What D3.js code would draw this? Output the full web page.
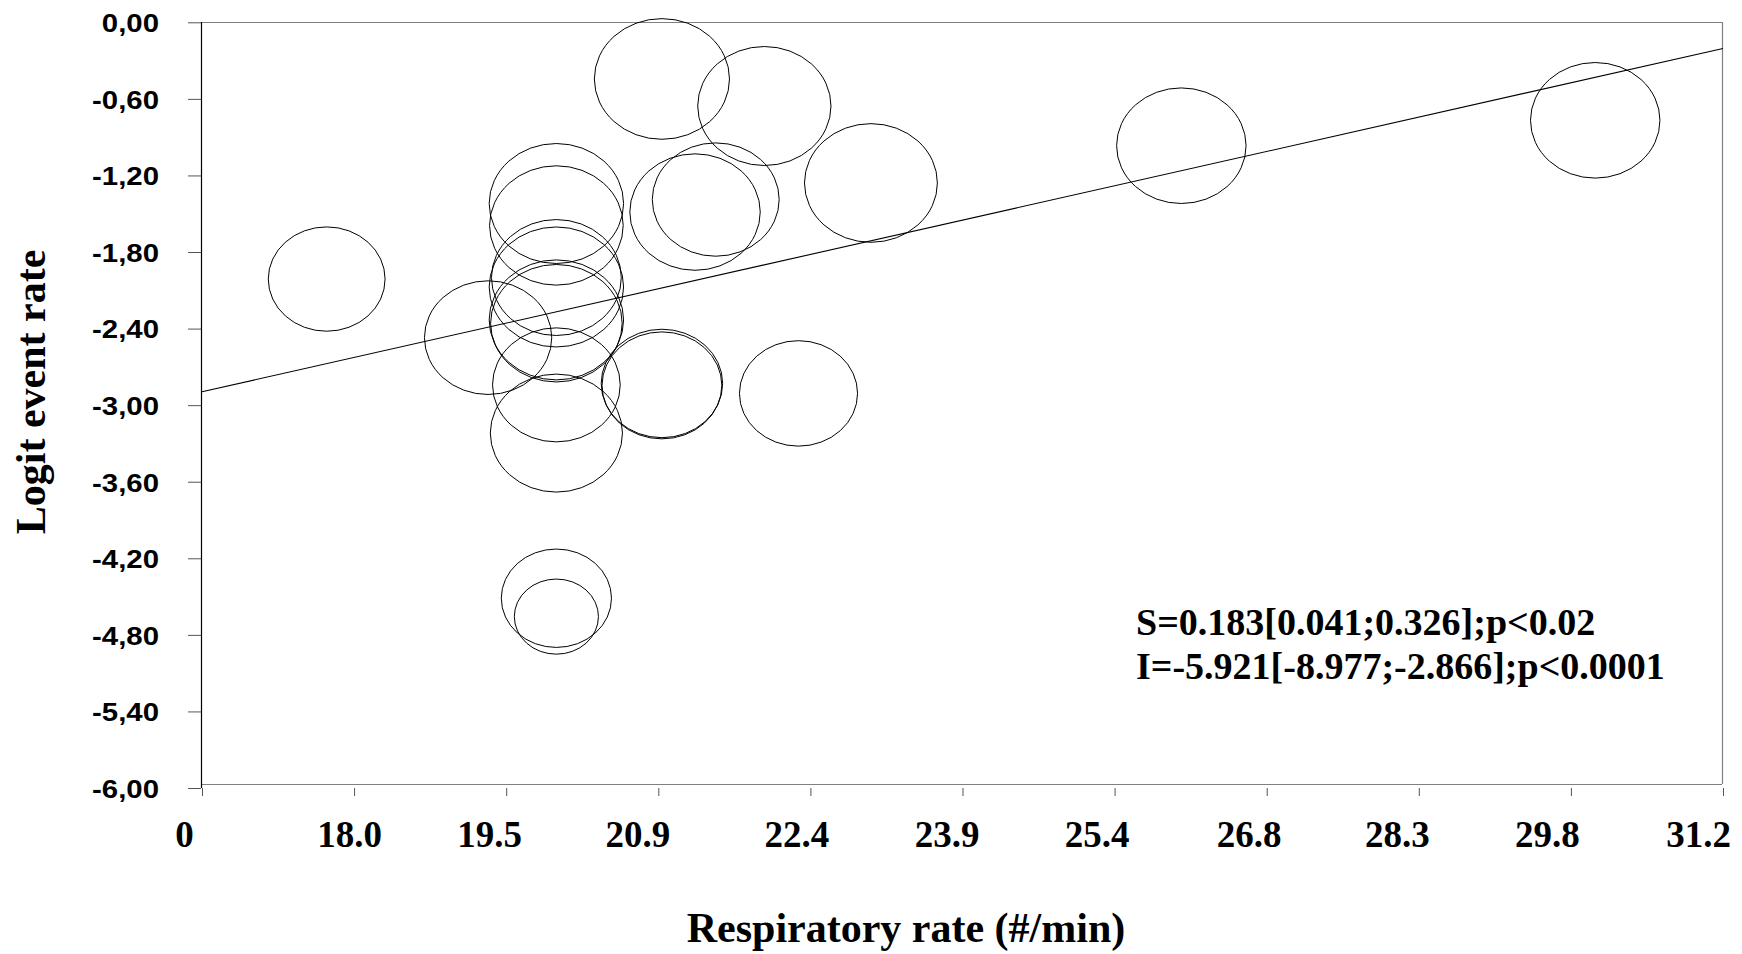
<!DOCTYPE html>
<html><head><meta charset="utf-8">
<script src="https://cdn.jsdelivr.net/npm/d3@7/dist/d3.min.js"></script>
<style>body{margin:0;background:#fff}svg{display:block}</style>
</head><body>
<svg id="chart" width="1742" height="954"></svg>
<script>
// ---- data ----
const studyRR    = [17.74, 19.30, 19.96, 19.96, 19.96, 19.96, 19.96, 19.96, 19.96, 19.96, 19.96, 19.96, 20.98, 21.97, 23.0, 21.5, 21.3, 20.98, 20.98, 22.3, 26.0, 30.0];
const studyLogit = [-2.012, -2.471, -1.420, -1.592, -2.000, -2.074, -2.332, -2.358, -2.841, -3.219, -4.513, -4.657, -0.444, -0.656, -1.259, -1.389, -1.487, -2.830, -2.845, -2.908, -0.967, -0.768];
const studyWeight= [27.2, 32.3, 36.0, 35.6, 33.6, 36.0, 36.0, 34.5, 32.5, 34.8, 24.2, 14.1, 36.4, 35.4, 35.2, 32.1, 33.9, 29.4, 28.6, 27.8, 33.4, 33.4];
const slope = 0.183, intercept = -5.921;
const yTickValues = [0, -0.6, -1.2, -1.8, -2.4, -3.0, -3.6, -4.2, -4.8, -5.4, -6.0];
const yTickLabels = ["0,00", "-0,60", "-1,20", "-1,80", "-2,40", "-3,00", "-3,60", "-4,20", "-4,80", "-5,40", "-6,00"];
const xTickValues = [16.535, 18.005, 19.475, 20.945, 22.415, 23.885, 25.355, 26.825, 28.295, 29.765, 31.235];
const xTickLabels = ["0", "18.0", "19.5", "20.9", "22.4", "23.9", "25.4", "26.8", "28.3", "29.8", "31.2"];
const xTitle = "Respiratory rate (#/min)";
const yTitle = "Logit event rate";
const annotationLines = ["S=0.183[0.041;0.326];p<0.02", "I=-5.921[-8.977;-2.866];p<0.0001"];

// ---- layout ----
const xLabelNudge = [-18, -5, -17, -21, -14, -16, -18, -18, -22, -24, -25];
const svg = d3.select("#chart");
const L = 201, R = 1722, T = 22, B = 784;
const x = d3.scaleLinear().domain([xTickValues[0], xTickValues[xTickValues.length-1]]).range([202, 1723]);
const y = d3.scaleLinear().domain([-6, 0]).range([788, 22.3]);
const r = d3.scaleSqrt().domain([0, 36]).range([0, 60]);
const aspect = 1.12;
const serif = "'Liberation Serif','Times New Roman',Times,serif";
const sans = "'Liberation Sans',Arial,Helvetica,sans-serif";

svg.append("rect").attr("width",1742).attr("height",954).attr("fill","#fff");

// frame
const frame = svg.append("g").attr("stroke","#808080").attr("stroke-width",1.2).attr("fill","none");
frame.append("line").attr("x1",L).attr("x2",R).attr("y1",T+0.5).attr("y2",T+0.5);
frame.append("line").attr("x1",R+0.5).attr("x2",R+0.5).attr("y1",T).attr("y2",B);
frame.append("line").attr("x1",L).attr("x2",R).attr("y1",B+0.5).attr("y2",B+0.5);

// bubbles
const idx = d3.range(studyRR.length);
svg.append("g").selectAll("ellipse").data(idx).join("ellipse")
  .attr("cx", i => x(studyRR[i]))
  .attr("cy", i => y(studyLogit[i]))
  .attr("rx", i => r(studyWeight[i]) * aspect)
  .attr("ry", i => r(studyWeight[i]))
  .attr("fill","none").attr("stroke","#000").attr("stroke-width",1);

// regression line
const xd = x.domain();
svg.append("line")
  .attr("x1", x(xd[0])).attr("y1", y(intercept + slope*xd[0]))
  .attr("x2", x(xd[1])).attr("y2", y(intercept + slope*xd[1]))
  .attr("stroke","#000").attr("stroke-width",1.1);

// y axis
const yAxis = svg.append("g").attr("transform",`translate(${L},0)`)
  .call(d3.axisLeft(y).tickValues(yTickValues).tickFormat((d,i)=>yTickLabels[i]).tickSize(13));
yAxis.select(".domain").remove();
yAxis.selectAll(".tick line").attr("stroke","#555");
yAxis.selectAll(".tick text")
  .attr("x", -42/1.13).attr("dy","0.36em")
  .attr("transform","scale(1.13,1)")
  .style("font-family", sans).style("font-weight","bold").style("font-size","26px").attr("fill","#000");
svg.append("line").attr("x1",L+0.5).attr("x2",L+0.5).attr("y1",T).attr("y2",788)
  .attr("stroke","#000").attr("stroke-width",1.2);

// x axis
const xAxis = svg.append("g").attr("transform","translate(0,788)")
  .call(d3.axisBottom(x).tickValues(xTickValues).tickFormat((d,i)=>xTickLabels[i]).tickSize(8));
xAxis.select(".domain").remove();
xAxis.selectAll(".tick line").attr("stroke","#555");
xAxis.selectAll(".tick text")
  .attr("y", 59).attr("dy", 0).attr("dx", (d,i) => xLabelNudge[i])
  .style("font-family", serif).style("font-weight","bold").style("font-size","37px").attr("fill","#000");

// titles
svg.append("text").attr("x", 906).attr("y", 942).attr("text-anchor","middle")
  .style("font-family", serif).style("font-weight","bold").style("font-size","42px").text(xTitle);
svg.append("text").attr("transform","translate(45,392) rotate(-90)").attr("text-anchor","middle")
  .style("font-family", serif).style("font-weight","bold").style("font-size","42px").text(yTitle);

// annotation
svg.append("g").selectAll("text").data(annotationLines).join("text")
  .attr("x", 1136).attr("y", (d,i) => 635 + i*44)
  .style("font-family", serif).style("font-weight","bold").style("font-size","38px").text(d => d);
</script>
</body></html>
